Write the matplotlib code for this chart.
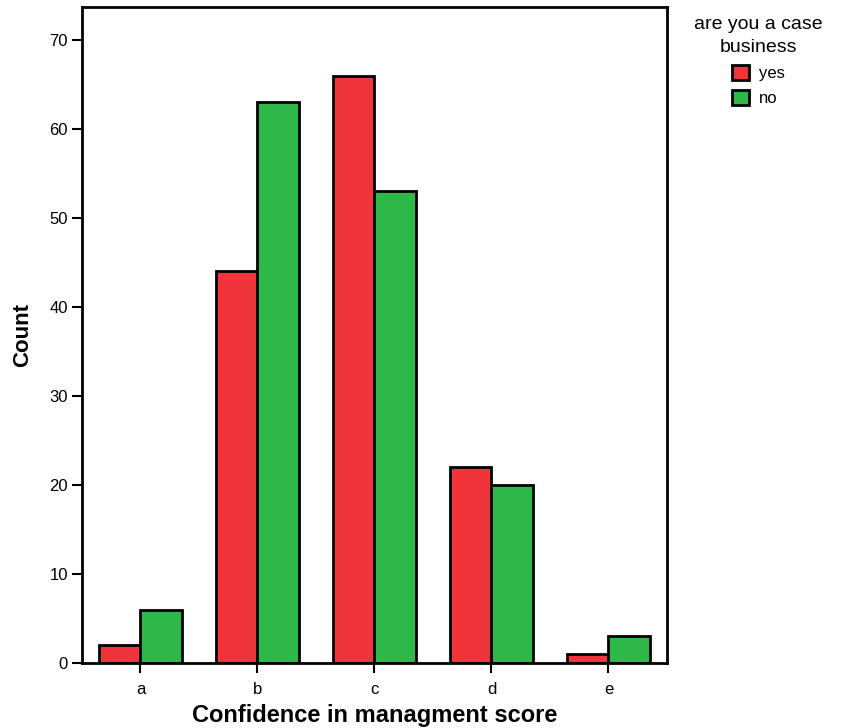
import numpy as np
import matplotlib
matplotlib.use('Agg')
from matplotlib import pyplot as plt
from matplotlib.patches import Patch

plt.rcParams['font.family'] = ['Liberation Sans', 'DejaVu Sans']

# data
categories = ['a', 'b', 'c', 'd', 'e']
yes_counts = [2, 44, 66, 22, 1]
no_counts = [6, 63, 53, 20, 3]

red = '#F0343C'
green = '#2EB84A'

fig = plt.figure(figsize=(8.55, 7.28), dpi=100)
ax = fig.add_axes([0.0959, 0.0893, 0.6842, 0.9011])

x = np.arange(len(categories))
w = 0.355
ax.bar(x - w / 2, yes_counts, w, color=red, edgecolor='black', linewidth=2)
ax.bar(x + w / 2, no_counts, w, color=green, edgecolor='black', linewidth=2)

ax.set_xlim(-0.5, 4.5)
ax.set_ylim(0, 73.7)
ax.set_xticks(x)
ax.set_xticklabels(categories)
ax.set_yticks(range(0, 71, 10))

for s in ax.spines.values():
    s.set_linewidth(2)
ax.tick_params(direction='out', length=7, width=1.5, labelsize=12, pad=3)
ax.tick_params(axis='x', pad=7)

ax.set_xlabel('Confidence in managment score', fontsize=17, fontweight='bold', labelpad=4.5)
ax.set_ylabel('Count', fontsize=16, fontweight='bold', labelpad=12)

handles = [Patch(facecolor=red, edgecolor='black', linewidth=2, label='yes'),
           Patch(facecolor=green, edgecolor='black', linewidth=2, label='no')]
leg = fig.legend(handles=handles, title='are you a case\nbusiness', loc='upper center',
                 bbox_to_anchor=(0.887, 0.998), frameon=False, fontsize=12,
                 title_fontsize=14, handlelength=1.0, handleheight=1.0,
                 handletextpad=0.6, labelspacing=0.55)
leg._legend_box.align = 'center'
leg.get_title().set_multialignment('center')
leg.get_title().set_linespacing(1.4)

fig.savefig('out.png', dpi=100)
